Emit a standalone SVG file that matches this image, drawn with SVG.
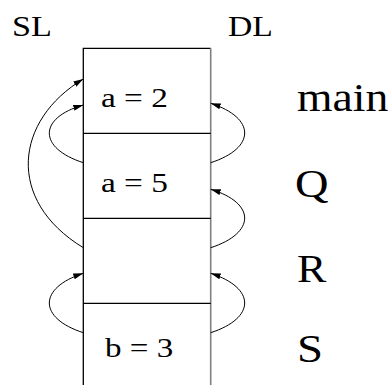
<svg xmlns="http://www.w3.org/2000/svg" width="388" height="385" viewBox="0 0 388 385">
<defs>
<marker id="ah" viewBox="0 0 10 6" refX="10" refY="3" markerWidth="10" markerHeight="6" markerUnits="userSpaceOnUse" orient="auto">
<path d="M0,0 L10,3 L0,6 Z" fill="#000"/>
</marker>
</defs>
<rect width="388" height="385" fill="#fff"/>
<g id="headers">
<text transform="translate(12,36) scale(1.14,1)" style="font-family:'Liberation Serif','Times New Roman',serif;font-size:30px;fill:#000">SL</text>
<text transform="translate(228,36) scale(1.125,1)" style="font-family:'Liberation Serif','Times New Roman',serif;font-size:30px;fill:#000">DL</text>
</g>
<g id="stack" fill="none">
<path d="M83.3,385 V48.3 H210.7" stroke="#000" stroke-width="1.3"/>
<path d="M210.7,48.3 V385" stroke="#808080" stroke-width="1.6"/>
<path d="M83.3,133.3 H210.7 M83.3,218.3 H210.7 M83.3,303.3 H210.7" stroke="#000" stroke-width="1.3"/>
</g>
<g id="frame-main">
<text transform="translate(101,107) scale(1.19,1)" style="font-family:'Liberation Serif','Times New Roman',serif;font-size:28px;fill:#000">a = 2</text>
<text transform="translate(297,111) scale(1.17,1)" style="font-family:'Liberation Serif','Times New Roman',serif;font-size:39px;fill:#000">main</text>
</g>
<g id="frame-Q">
<text transform="translate(101,192) scale(1.19,1)" style="font-family:'Liberation Serif','Times New Roman',serif;font-size:28px;fill:#000">a = 5</text>
<text transform="translate(295,197) scale(1.19,1)" style="font-family:'Liberation Serif','Times New Roman',serif;font-size:39px;fill:#000">Q</text>
</g>
<g id="frame-R">
<text transform="translate(297,282) scale(1.13,1)" style="font-family:'Liberation Serif','Times New Roman',serif;font-size:39px;fill:#000">R</text>
</g>
<g id="frame-S">
<text transform="translate(105,357) scale(1.18,1)" style="font-family:'Liberation Serif','Times New Roman',serif;font-size:28px;fill:#000">b = 3</text>
<text transform="translate(297,362) scale(1.2,1)" style="font-family:'Liberation Serif','Times New Roman',serif;font-size:39px;fill:#000">S</text>
</g>
<g id="connectors" fill="none" stroke="#000" stroke-width="1" marker-end="url(#ah)">
<path d="M83.3,247.7 C5,200 15,120 83.3,79"/>
<path d="M83.3,162.7 C38,148 38,118 83.3,105"/>
<path d="M83.3,332.7 C38,318 38,288 83.3,273.3"/>
<path d="M210.7,162.7 C256,148 256,118 210.7,103.3"/>
<path d="M210.7,247.7 C256,233 256,203 210.7,189.3"/>
<path d="M210.7,332.7 C256,318 256,288 210.7,273.3"/>
</g>
</svg>
